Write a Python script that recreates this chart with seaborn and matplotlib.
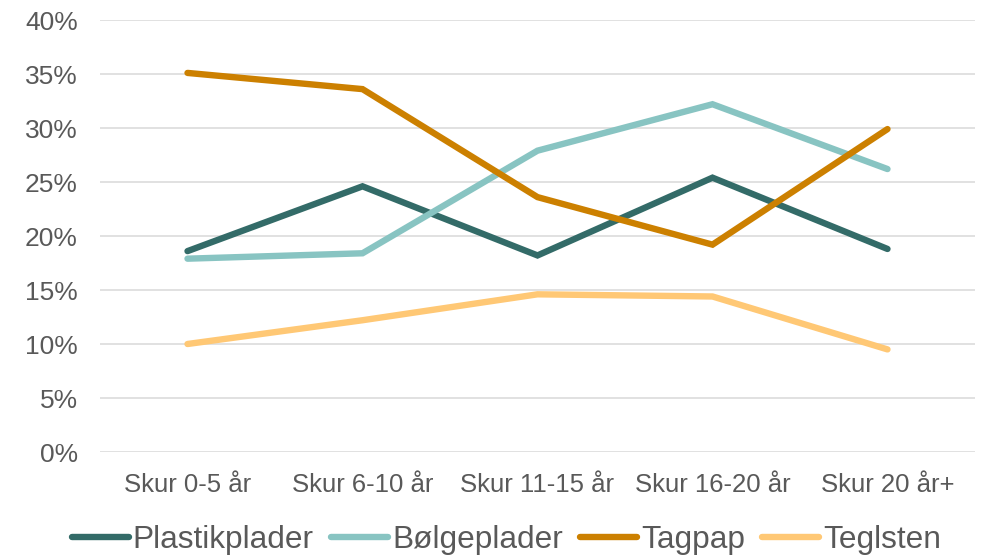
import matplotlib
matplotlib.use("Agg")
import matplotlib.pyplot as plt
import seaborn as sns
import pandas as pd
from matplotlib.ticker import PercentFormatter

categories = ["Skur 0-5 år", "Skur 6-10 år", "Skur 11-15 år", "Skur 16-20 år", "Skur 20 år+"]
plastikplader = [0.186, 0.246, 0.182, 0.254, 0.188]
boelgeplader = [0.179, 0.184, 0.279, 0.322, 0.262]
tagpap = [0.351, 0.336, 0.236, 0.192, 0.299]
teglsten = [0.100, 0.122, 0.146, 0.144, 0.095]
series_names = ["Plastikplader", "Bølgeplader", "Tagpap", "Teglsten"]
colors = ["#336B68", "#88C4C2", "#CC8000", "#FFC875"]

sns.set_style("white")
plt.rcParams["font.family"] = ["Liberation Sans", "DejaVu Sans"]

rows = []
for name, vals in zip(series_names, [plastikplader, boelgeplader, tagpap, teglsten]):
    for c, v in zip(categories, vals):
        rows.append({"Kategori": c, "Andel": v, "Serie": name})
df = pd.DataFrame(rows)

fig = plt.figure(figsize=(9.91, 5.59), dpi=100)
ax = fig.add_axes([100/991, 107/559, 875/991, 432/559])

sns.lineplot(data=df, x="Kategori", y="Andel", hue="Serie", hue_order=series_names,
             palette=colors, linewidth=4.6, sort=False, ax=ax, legend=False)
for ln in ax.get_lines():
    ln.set_solid_capstyle("round")
    ln.set_solid_joinstyle("miter")
    ln.set_clip_on(False)

ax.set_xlim(-0.5, 4.5)
ax.set_ylim(0, 0.4)
ax.set_yticks([0, 0.05, 0.10, 0.15, 0.20, 0.25, 0.30, 0.35, 0.40])
ax.yaxis.set_major_formatter(PercentFormatter(1.0, decimals=0))
ax.grid(axis="y", color="#D9D9D9", linewidth=1.1)
ax.set_axisbelow(True)
for s in ax.spines.values():
    s.set_visible(False)
ax.tick_params(axis="both", length=0, colors="#595959")
ax.tick_params(axis="y", pad=16, labelsize=19)
ax.tick_params(axis="x", pad=15, labelsize=18.5)
ax.set_xlabel("")
ax.set_ylabel("")

handles = ax.get_lines()[:4]
leg = fig.legend(handles, series_names, loc="center", bbox_to_anchor=(0.511, 0.034),
                 ncol=4, frameon=False, fontsize=22.8, handlelength=1.8,
                 handletextpad=0.12, columnspacing=0.55, labelcolor="#595959")
for h in leg.legend_handles:
    h.set_linewidth(4.6)
    h.set_solid_capstyle("round")

fig.savefig("out.png", dpi=100)
